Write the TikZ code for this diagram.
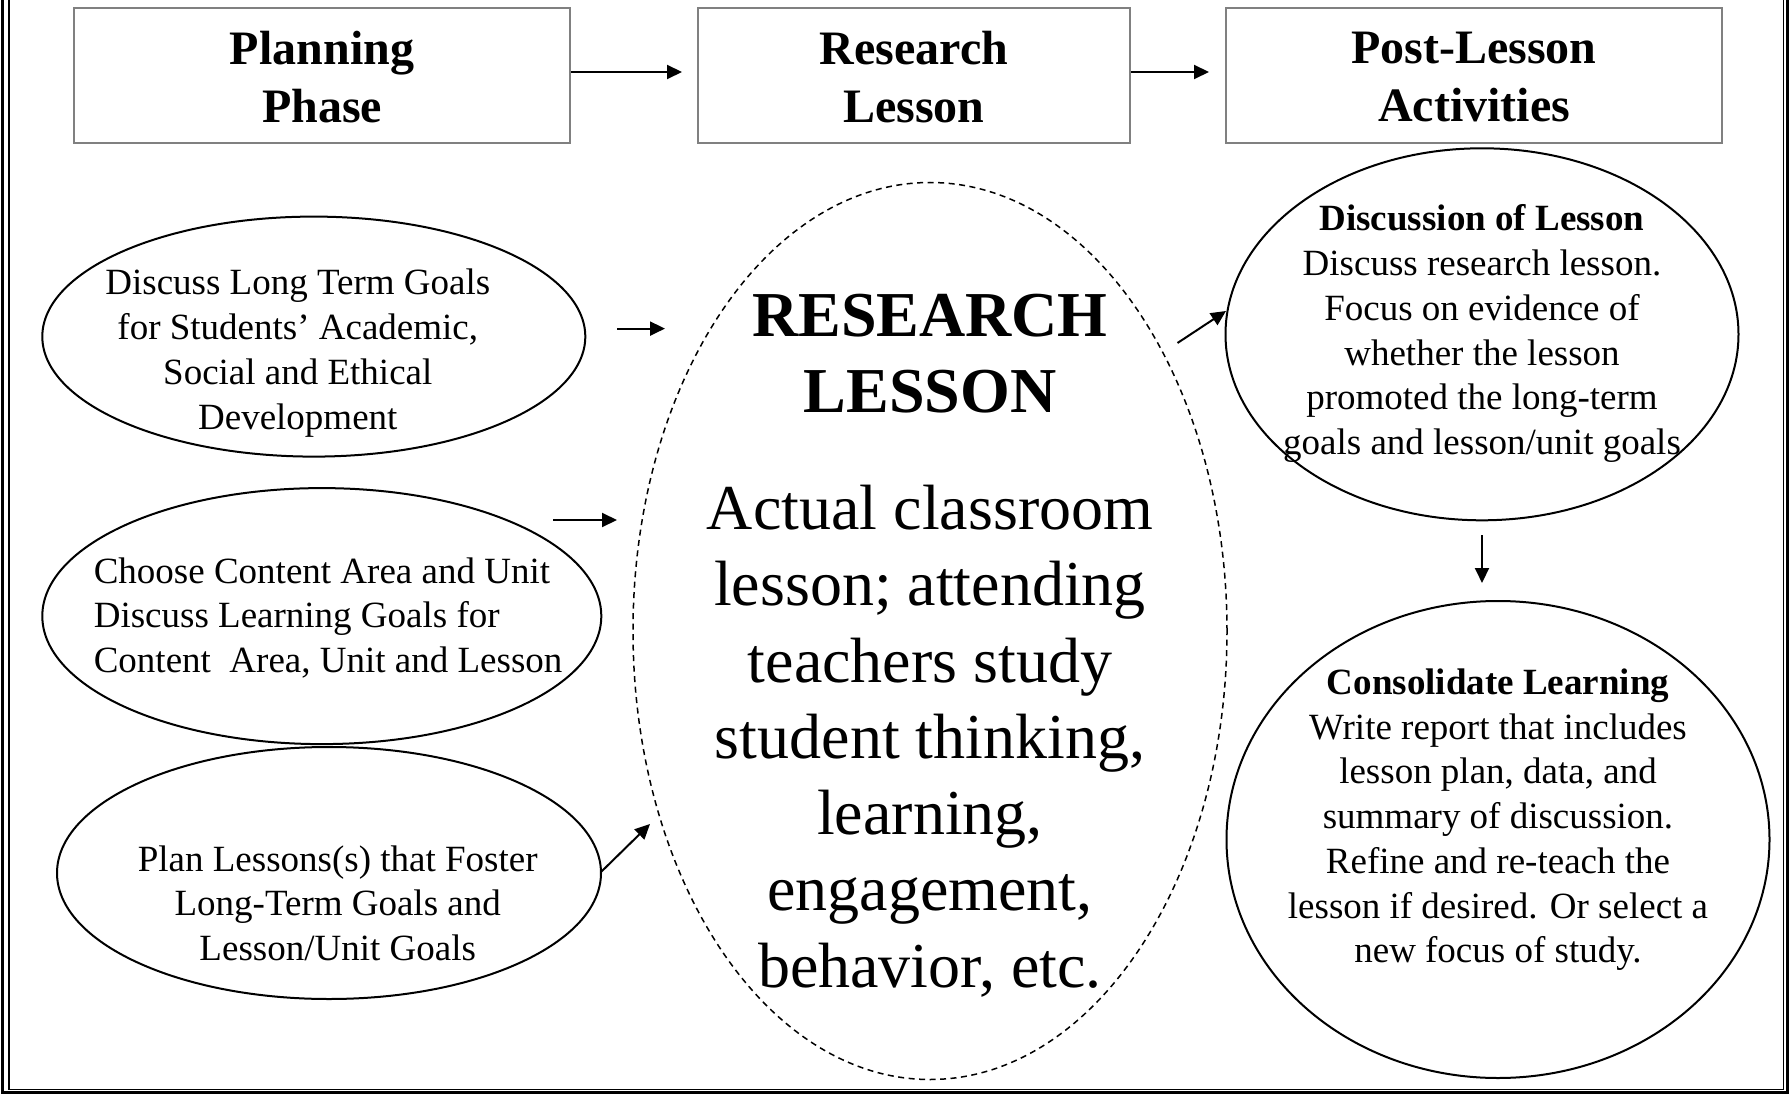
\documentclass[tikz,border=0pt]{standalone}
\usepackage{fontspec}
\setmainfont{Liberation Serif}
\usetikzlibrary{shapes.geometric,arrows.meta}
\definecolor{boxgray}{RGB}{128,128,128}
\begin{document}
\begin{tikzpicture}[x=1pt,y=-1pt,
  hdrbox/.style={draw=boxgray, line width=2pt, minimum width=496pt, minimum height=135pt, inner sep=0pt},
  hdrtext/.style={inner sep=0pt, align=center, font=\bfseries\fontsize{48}{58.2}\selectfont},
  oval/.style={ellipse, draw, line width=2pt, inner sep=0pt},
  dashoval/.style={ellipse, draw, line width=1.5pt, dash pattern=on 6pt off 4.5pt, inner sep=0pt},
  body/.style={inner sep=0pt, align=center, font=\fontsize{37}{44.7}\selectfont},
  arr/.style={line width=2pt, -{Triangle[length=15pt,width=14pt]}}]
\useasboundingbox (0,0) rectangle (1789,1094);
% frame
\draw[line width=2.7pt] (2.5,0) -- (2.5,1092.7) -- (1787.3,1092.7) -- (1787.3,0);
\draw[line width=1.4pt] (9,0) -- (9,1089.5) -- (1783.3,1089.5) -- (1783.3,0);
% header boxes
\node[hdrbox] (plan) at (322,75.5) {};
\node[hdrbox, minimum width=432pt] (rl) at (914,75.5) {};
\node[hdrbox] (post) at (1474,75.5) {};
\node[hdrtext] (plant) at (322,77.2) {Planning\\Phase};
\node[hdrtext] (rlt) at (914,77.2) {Research\\Lesson};
\node[hdrtext] (postt) at (1474,77.2) {Post-Lesson\\Activities};
% ellipses
\node[oval, minimum width=543pt, minimum height=240pt] (e1) at (313.8,336.6) {};
\node[oval, minimum width=559pt, minimum height=256pt] (e2) at (321.8,616.1) {};
\node[oval, minimum width=544pt, minimum height=252pt] (e3) at (329,873) {};
\node[dashoval, minimum width=594pt, minimum height=897pt] (rlo) at (930,631) {};
\node[oval, minimum width=513pt, minimum height=372pt] (disc) at (1482,334.3) {};
\node[oval, minimum width=543pt, minimum height=477pt] (cons) at (1498,839.5) {};
% texts
\node[body] (t1) at (297.8,353.1) {Discuss Long Term Goals\\for Students’ Academic,\\Social and Ethical\\Development};
\node[body, align=left, anchor=west] (t2) at (93.6,617.9) {Choose Content Area and Unit\\Discuss Learning Goals for\\Content\ \ Area, Unit and Lesson};
\node[body] (t3) at (337.7,903.1) {Plan Lessons(s) that Foster\\Long-Term Goals and\\Lesson/Unit Goals};
\node[inner sep=0pt, align=center, font=\bfseries\fontsize{64}{75.4}\selectfont] (t4) at (930,353.7) {RESEARCH\\LESSON};
\node[inner sep=0pt, align=center, font=\fontsize{64}{76.3}\selectfont] (t5) at (930,741.1) {Actual classroom\\lesson; attending\\teachers study\\student thinking,\\learning,\\engagement,\\behavior, etc.};
\node[body] (t6) at (1482,333.7) {\textbf{Discussion of Lesson}\\Discuss research lesson.\\Focus on evidence of\\whether the lesson\\promoted the long-term\\goals and lesson/unit goals};
\node[body] (t7) at (1498,819.8) {\textbf{Consolidate Learning}\\Write report that includes\\lesson plan, data, and\\summary of discussion.\\Refine and re-teach the\\lesson if desired. Or select a\\new focus of study.};
% arrow end points
\coordinate (a1e) at (682,72);
\coordinate (a2e) at (1209,72);
\coordinate (a3s) at (617,328.6);
\coordinate (a3e) at (665,328.6);
\coordinate (a4s) at (553,520);
\coordinate (a4e) at (617,520);
\coordinate (a5s) at (601,872);
\coordinate (a5e) at (650,824);
\coordinate (a6s) at (1177.5,343);
\coordinate (a6e) at (1226,311);
\coordinate (a7s) at (1482,535);
\coordinate (a7e) at (1482,583);
% arrows
\draw[arr] (plan.east |- a1e) -- (a1e);
\draw[arr] (rl.east |- a2e) -- (a2e);
\draw[arr] (a3s) -- (a3e);
\draw[arr] (a4s) -- (a4e);
\draw[arr] (a5s) -- (a5e);
\draw[arr] (a6s) -- (a6e);
\draw[arr] (a7s) -- (a7e);
\end{tikzpicture}
\end{document}
